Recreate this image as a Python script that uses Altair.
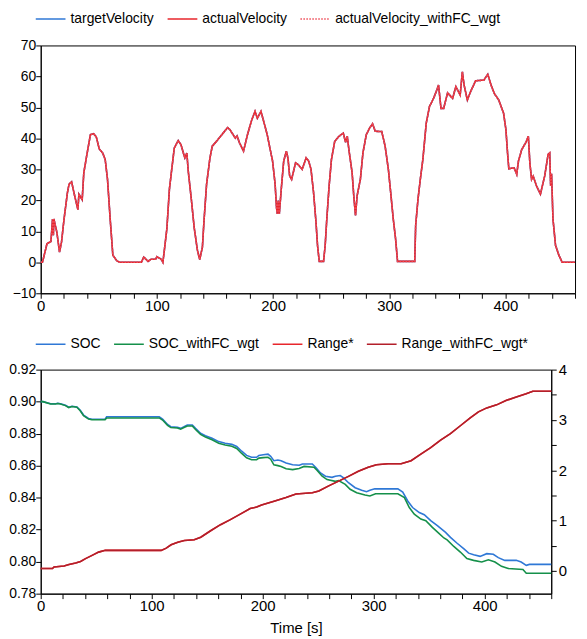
import altair as alt
import pandas as pd

FONT = "Liberation Sans, Arial, sans-serif"

BLUE = "#2f78d6"
RED = "#e8262c"
GREEN = "#15904a"
DARKRED = "#b31f2a"

# ---- top panel: velocity ----
vel_series = ["targetVelocity", "actualVelocity", "actualVelocity_withFC_wgt"]
vel_t = [0, 1.5, 5.4, 8.8, 10.2, 10.9, 11.3, 13.9, 16.2, 17.9, 20.1, 23, 24.4, 26.6, 28.6, 32, 32.9, 35.7,
         37.1, 40, 42.8, 45.6, 47.9, 50.4, 53.3, 55.5, 57.5, 59.8, 62.1, 65.5, 68, 86.7, 88.7, 92.4, 95, 98.9,
         100, 103.7, 105.2, 106.6, 108.6, 110.8, 112.8, 115.0, 118.4, 120.7, 124.1, 125.8, 127, 129.8, 132.1,
         134.9, 136.9, 139.2, 140.6, 142.8, 145.7, 147.7, 151.9, 157, 161, 162.9, 167.5, 169, 171.2, 174.6,
         178, 181.7, 184.5, 186.5, 189.6, 191.6, 195, 197.3, 199.6, 201.8, 203, 203.7, 204.5, 205.4, 207.2,
         209.2, 211.5, 212.9, 214.3, 216, 219.4, 221.4, 225.1, 228.5, 230.7, 232.7, 234.9, 237, 238.3, 239.8,
         243.5, 244.9, 246.3, 248.3, 250.3, 253.1, 256.8, 260.5, 262.5, 263.9, 265.3, 268.1, 269.5, 271,
         272.4, 275.2, 277.4, 280.3, 283.1, 285.7, 288, 293.6, 296.5, 299.3, 301.3, 303.5, 305.5, 307.2, 322,
         322.8, 324.8, 326.8, 329, 331.9, 334.7, 338.2, 341, 342.5, 344.6, 346.9, 350.3, 354.6, 357.4, 361.1,
         363, 364.5, 367.3, 370.1, 374.4, 381.5, 384.9, 387.7, 390.5, 394.3, 398.5, 400.5, 401.9, 403, 407.5,
         409.8, 411.3, 414.1, 417.7, 419.8, 421.1, 422.6, 424, 426.8, 430.2, 433.9, 436.8, 438.2, 439, 439.8,
         441, 443.2, 446.1, 448.9, 460]
vel_v = [0, 0, 6, 6.7, 14, 8.7, 14, 9.7, 3.3, 6.5, 14, 22.5, 25.2, 26, 22.5, 17, 22, 20.2,
         28.9, 35.3, 41.2, 41.5, 40.4, 36.6, 35.3, 33.2, 26.8, 14, 2.3, 0.5, 0, 0, 1.7, 0.3, 1, 1,
         1.8, 1, 0, 4.4, 10.8, 23.6, 30, 36.9, 39.3, 38, 33.7, 35.3, 29.5, 19.9, 11.3,
         3.9, 0.9, 4.9, 13.5, 25.2, 33.7, 37.5, 39.3, 41.7, 43.5, 42.8, 40.1, 40.8, 38.5, 35.9,
         41.2, 46, 48.7, 46.5, 48.7, 46, 41.2, 36.9, 32.7, 25.2, 17.7, 15.6, 19.9, 15.6, 24.1,
         32.7, 35.9, 33.5, 27.9, 26.8, 32.1, 31.6, 30, 33.7, 32.7, 30, 22.5, 12.9, 5.5, 0.3,
         0.3, 5.5, 14, 24.7, 33.2, 39, 40.7, 41.7, 38.7, 40.7, 36.4, 28.9, 21.5, 15.1,
         21.5, 26.8, 35.3, 41.2, 43.3, 44.7, 42.3, 42.2, 37.5, 30, 22.5, 14, 7.6, 0.3, 0.3,
         11.9, 20.4, 26.8, 33.2, 44.9, 50.3, 52.9, 55.6, 57.2, 49.7, 49.7, 54.7, 52.9, 56.7, 54,
         61.5, 57.2, 52.4, 55.1, 58.6, 58.8, 60.7, 57.2, 54.5, 52.4, 48.1, 42.8, 35.3, 30.2, 30.5,
         28.4, 32.7, 36.4, 38.7, 40.7, 32.1, 26.8, 27.8, 24.7, 22, 27.9, 34.8, 35.3, 24.7, 28.6,
         14, 5.5, 2.3, 0, 0]

# ---- bottom panel: SOC and range ----
soc_series = ["SOC", "SOC_withFC_wgt", "Range*", "Range_withFC_wgt*"]
soc_t = [0, 2, 8.9, 13.4, 15.4, 17.8, 22.3, 25.2, 28.2, 32.6, 35.6, 38.6, 43.1, 46.1, 58, 59.4, 106.8,
         109.8, 114.3, 117.2, 123.2, 126.1, 129.1, 132.1, 136.6, 139.5, 144, 148.4, 154.4, 160.4, 166.2,
         172.2, 176.6, 181.1, 185.5, 190, 194.5, 196.6, 200.5, 204.8, 207.2, 210.1, 213.7, 216.6, 221.1,
         227, 233, 235.8, 244.7, 247.7, 252.1, 256.6, 262.5, 265.5, 269.9, 272.9, 277.3, 283.3, 289.2,
         293.6, 296.6, 301, 321.8, 326.2, 330.7, 335.1, 341.1, 345.6, 351.4, 357.4, 364.8, 369.2, 375.2,
         381.1, 385.6, 390.1, 395.9, 401.9, 407.8, 412.3, 418.1, 428.5, 432.9, 437.5, 440.4, 460]
soc_v = [0.900, 0.900, 0.8987, 0.8987, 0.899, 0.8987, 0.8977, 0.8965, 0.8971, 0.8967, 0.8946, 0.8916,
         0.8895, 0.889, 0.889, 0.8905, 0.8905, 0.889, 0.8857, 0.8843, 0.884, 0.8833, 0.8843, 0.8854,
         0.8854, 0.8833, 0.8802, 0.8787, 0.8771, 0.875, 0.874, 0.8733, 0.872, 0.869, 0.8664, 0.8652,
         0.8652, 0.8664, 0.8668, 0.8672, 0.8658, 0.8631, 0.8635, 0.8631, 0.8616, 0.8606, 0.8602, 0.8610,
         0.861, 0.859, 0.8554, 0.8534, 0.8527, 0.8534, 0.8538, 0.8523, 0.8493, 0.8462, 0.8446, 0.8437,
         0.8446, 0.8455, 0.8455, 0.8435, 0.8379, 0.8338, 0.8307, 0.8293, 0.8256, 0.8225, 0.8183, 0.8152,
         0.8115, 0.8081, 0.8053, 0.8043, 0.8033, 0.8050, 0.8046, 0.8025, 0.8008, 0.8008, 0.7998, 0.7977,
         0.7983, 0.7983]
socfc_t = [0, 2, 8.9, 13.4, 15.4, 17.8, 22.3, 25.2, 28.2, 32.6, 35.6, 38.6, 43.1, 46.1, 58, 59.4, 106.8,
           109.8, 114.3, 117.2, 123.2, 126.1, 129.1, 132.1, 136.6, 139.5, 144, 148.4, 154.4, 160.4, 166.2,
           172.2, 176.6, 181.1, 185.5, 190, 194.5, 196.6, 200.5, 204.8, 207.2, 210.1, 213.7, 216.6, 221.1,
           227, 232.8, 237.3, 246.2, 249.1, 253.6, 258, 265.5, 268.4, 274.4, 278.8, 284.7, 292.2, 296.6,
           301.7, 321.8, 327.7, 332.1, 336.6, 342.5, 347, 352.9, 358.8, 363.3, 366.2, 372.2, 378.1, 384,
           390, 397.4, 403.4, 409.3, 415.2, 421.2, 434.5, 437.5, 460]
socfc_v = [0.900, 0.900, 0.8985, 0.8985, 0.8988, 0.8985, 0.8975, 0.8963, 0.8969, 0.8965, 0.8943, 0.8912,
           0.8891, 0.8887, 0.8887, 0.8898, 0.8898, 0.8885, 0.8852, 0.8838, 0.8835, 0.8828, 0.8838, 0.8848,
           0.8848, 0.8826, 0.8795, 0.8779, 0.8762, 0.874, 0.8729, 0.8721, 0.8707, 0.8676, 0.8649, 0.8637,
           0.8637, 0.8647, 0.865, 0.8652, 0.864, 0.8605, 0.86, 0.8595, 0.858, 0.8575, 0.8582, 0.8595,
           0.859, 0.857, 0.8534, 0.8513, 0.8502, 0.8507, 0.8483, 0.8452, 0.8431, 0.8416, 0.841, 0.8424,
           0.8424, 0.84, 0.8338, 0.8297, 0.8266, 0.8256, 0.8214, 0.8177, 0.8148, 0.8136, 0.8095, 0.806,
           0.8019, 0.8008, 0.7998, 0.8012, 0.7998, 0.7971, 0.7957, 0.7951, 0.7928, 0.7928]
range_t = [0, 10.6, 12, 21, 25.5, 31.5, 35.9, 40.4, 46.3, 52.2, 58.2, 108.6, 113.1, 117.5, 123.5, 129.4,
           138.3, 144.2, 153.1, 162, 170.9, 179.8, 188.7, 194.6, 199, 211, 221, 230, 244.7, 250.6, 259.5,
           268.4, 277.3, 286.2, 295.1, 302.5, 312.9, 324.8, 333.7, 342.5, 351.4, 360.3, 369.2, 378.1, 387,
           394.4, 401.9, 410.8, 419.7, 428.5, 437.4, 443.4, 460]
range_v = [0.05, 0.05, 0.08, 0.1, 0.13, 0.16, 0.19, 0.245, 0.31, 0.375, 0.41, 0.41, 0.454, 0.52, 0.57,
           0.605, 0.62, 0.67, 0.80, 0.92, 1.02, 1.13, 1.24, 1.27, 1.31, 1.39, 1.46, 1.53, 1.555, 1.59, 1.69,
           1.785, 1.88, 1.98, 2.06, 2.11, 2.13, 2.13, 2.19, 2.32, 2.45, 2.60, 2.73, 2.885, 3.04, 3.16, 3.24,
           3.30, 3.39, 3.455, 3.52, 3.57, 3.57]

x_ticks = list(range(0, 461, 20))
vel_ticks = list(range(-10, 71, 10))
soc_ticks = [round(0.78 + 0.02 * i, 2) for i in range(8)]
range_ticks = [0.5 * i for i in range(9)]

HUNDREDS = "datum.value % 100 == 0 ? datum.label : ''"
LW = 1.6


def frame(ts, vs, name):
    return pd.DataFrame({"t": ts, "val": vs, "series": name})


def legend(lx, ly):
    return alt.Legend(orient="none", legendX=lx, legendY=ly, direction="horizontal",
                      title=None, symbolType="stroke", symbolSize=900, symbolStrokeWidth=1.5,
                      labelOffset=4, columnPadding=12, labelFont=FONT, labelFontSize=14,
                      labelColor="black", labelLimit=0, padding=0, clipHeight=14)


# top panel
x_top = alt.X("t:Q", scale=alt.Scale(domain=[0, 460], nice=False),
              axis=alt.Axis(values=x_ticks, labelExpr=HUNDREDS, title=None, labelFontSize=15))
y_top = alt.Y("val:Q", scale=alt.Scale(domain=[-10, 70], nice=False),
              axis=alt.Axis(values=vel_ticks, title=None))
leg_top = legend(-6, -33.7)
c_top = alt.Color("series:N", scale=alt.Scale(domain=vel_series, range=[BLUE, RED, "#ee4a55"]),
                  legend=leg_top, title=None)
d_top = alt.StrokeDash("series:N", scale=alt.Scale(domain=vel_series, range=[[1, 0], [1, 0], [1.5, 1.5]]),
                       legend=leg_top, title=None)

top_layers = [
    alt.Chart(frame(vel_t, vel_v, name)).mark_line(strokeWidth=LW).encode(
        x=x_top, y=y_top, color=c_top, strokeDash=d_top)
    for name in vel_series
]
top = alt.layer(*top_layers).properties(width=539, height=250)

# bottom panel
x_bot = alt.X("t:Q", scale=alt.Scale(domain=[0, 460], nice=False),
              axis=alt.Axis(values=x_ticks, labelExpr=HUNDREDS, title="Time [s]", labelFontSize=15))
y_left = alt.Y("val:Q", scale=alt.Scale(domain=[0.78, 0.92], nice=False, zero=False),
               axis=alt.Axis(values=soc_ticks, format=".2f", title=None))
y_right = alt.Y("val:Q", scale=alt.Scale(domain=[-0.45, 4], nice=False, zero=False),
                axis=alt.Axis(orient="right", values=range_ticks,
                              labelExpr="datum.value % 1 == 0 ? '' + datum.value : ''",
                              title=None, labelPadding=2, labelFontSize=15))
leg_bot = legend(-6, -32.6)
c_bot = alt.Color("series:N", scale=alt.Scale(domain=soc_series, range=[BLUE, GREEN, RED, DARKRED]),
                  legend=leg_bot, title=None)

soc_layer = alt.layer(
    alt.Chart(frame(soc_t, soc_v, "SOC")).mark_line(strokeWidth=LW).encode(x=x_bot, y=y_left, color=c_bot),
    alt.Chart(frame(socfc_t, socfc_v, "SOC_withFC_wgt")).mark_line(strokeWidth=LW).encode(
        x=x_bot, y=y_left, color=c_bot),
)
range_layer = alt.layer(
    alt.Chart(frame(range_t, range_v, "Range*")).mark_line(strokeWidth=LW).encode(
        x=x_bot, y=y_right, color=c_bot),
    alt.Chart(frame(range_t, range_v, "Range_withFC_wgt*")).mark_line(strokeWidth=LW).encode(
        x=x_bot, y=y_right, color=c_bot),
)
bottom = alt.layer(soc_layer, range_layer).resolve_scale(y="independent").properties(width=515, height=226)

chart = alt.vconcat(top, bottom, spacing=77, bounds="flush").resolve_scale(
    color="independent", strokeDash="independent", x="independent"
).resolve_legend(color="independent", strokeDash="independent").properties(
    padding={"left": 0, "top": 0, "right": 0, "bottom": 4}
).configure_view(
    stroke="black", strokeWidth=1
).configure_axis(
    grid=False, domainColor="black", tickColor="black", labelColor="black",
    labelFont=FONT, labelFontSize=14, tickSize=5, labelPadding=0, labelFlush=False,
    labelOverlap=False, titleFont=FONT, titleFontSize=15, titleFontWeight="normal",
    titleColor="black", titlePadding=7
)

chart.save("out.html", embed_options={"renderer": "svg", "actions": False})
